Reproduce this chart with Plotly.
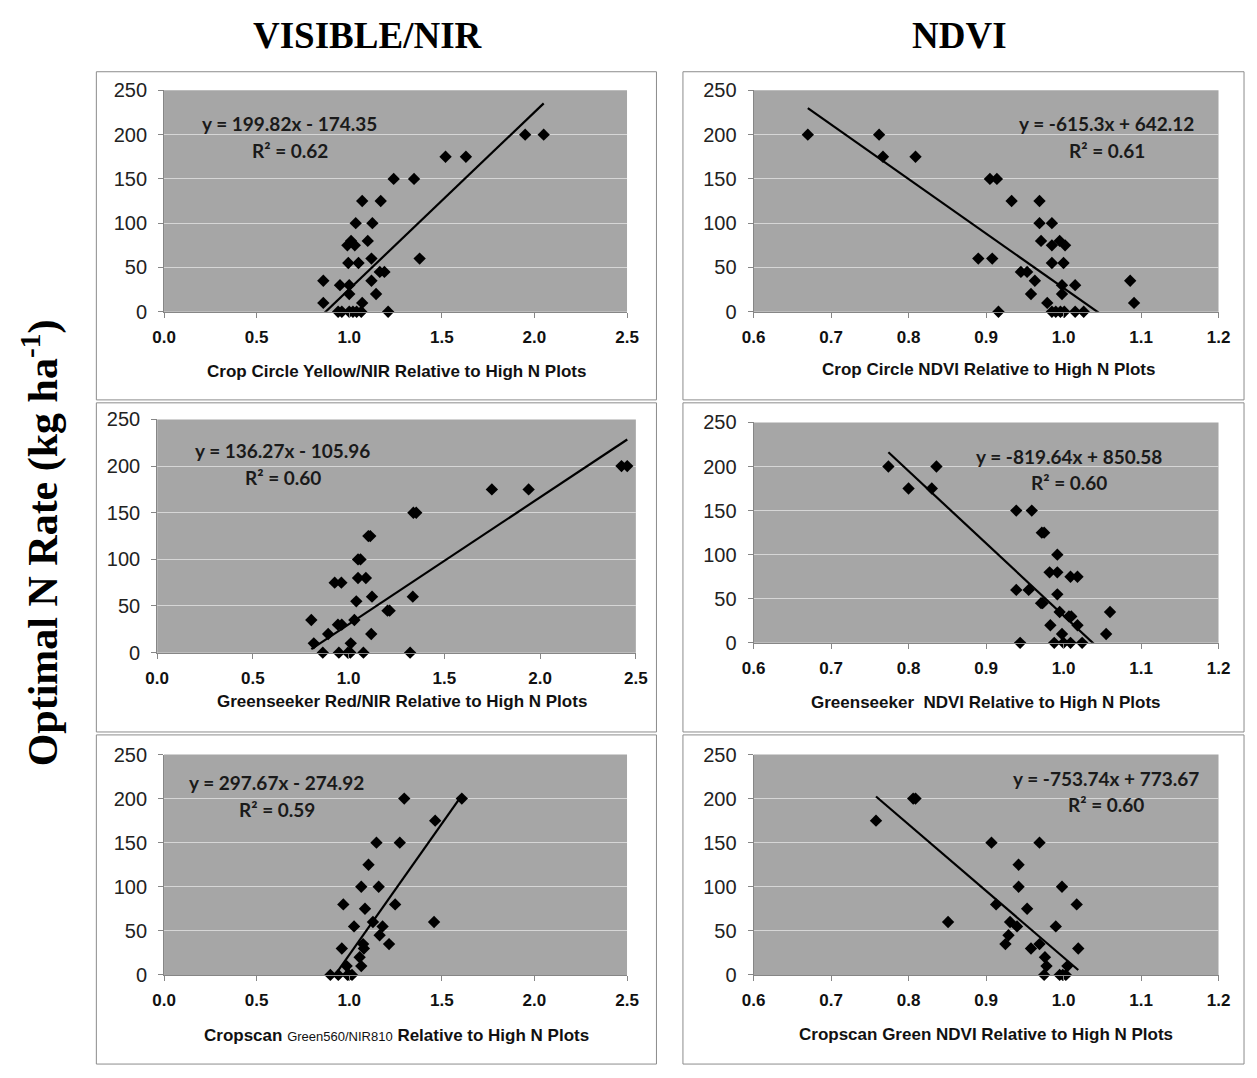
import plotly.graph_objects as go

W, H = 1257, 1078

# ---------------- data ----------------
# Panel 1: Crop Circle Yellow/NIR
cc_vis_x = [1.95, 2.05, 1.52, 1.63, 1.24, 1.35, 1.07, 1.17, 1.035, 1.125, 0.99, 1.01, 1.03, 1.10,
            1.12, 0.995, 1.05, 1.165, 1.19, 1.38, 0.86, 1.12, 0.95, 1.0, 1.0, 1.145, 0.86, 1.07,
            0.94, 0.96, 1.0, 1.02, 1.04, 1.065, 1.21]
cc_vis_y = [200, 200, 175, 175, 150, 150, 125, 125, 100, 100, 75, 80, 75, 80,
            60, 55, 55, 45, 45, 60, 35, 35, 30, 30, 20, 20, 10, 10,
            0, 0, 0, 0, 0, 0, 0]

# Panel 2: Crop Circle NDVI
cc_ndvi_x = [0.670, 0.762, 0.767, 0.809, 0.905, 0.914, 0.933, 0.969, 0.969, 0.985, 0.971, 0.995,
             1.002, 0.985, 0.985, 1.0, 0.890, 0.908, 0.945, 0.953, 0.963, 0.998, 1.015, 0.958,
             0.998, 0.979, 0.916, 0.985, 0.990, 0.996, 1.001, 1.015, 1.026, 1.086, 1.091]
cc_ndvi_y = [200, 200, 175, 175, 150, 150, 125, 125, 100, 100, 80, 80,
             75, 75, 55, 55, 60, 60, 45, 45, 35, 30, 30, 20,
             20, 10, 0, 0, 0, 0, 0, 0, 0, 35, 10]

# Panel 3: Greenseeker Red/NIR
gs_vis_x = [2.425, 2.455, 1.748, 1.94, 1.338, 1.353, 1.103, 1.113, 1.049, 1.062, 1.049, 1.09,
            0.927, 0.962, 1.122, 1.335, 1.04, 1.203, 1.214, 0.805, 1.03, 0.944, 0.964, 0.893,
            1.118, 0.818, 1.011, 0.865, 0.949, 0.996, 1.009, 1.077, 1.321]
gs_vis_y = [200, 200, 175, 175, 150, 150, 125, 125, 100, 100, 80, 80,
            75, 75, 60, 60, 55, 45, 45, 35, 35, 30, 30, 20,
            20, 10, 10, 0, 0, 0, 0, 0, 0]

# Panel 4: Greenseeker NDVI
gs_ndvi_x = [0.774, 0.836, 0.800, 0.830, 0.939, 0.959, 0.972, 0.975, 0.992, 0.982, 0.992, 1.009,
             1.018, 0.939, 0.955, 0.992, 0.971, 0.973, 0.995, 1.060, 1.007, 1.010, 0.983, 1.018,
             0.998, 1.055, 0.944, 0.988, 1.000, 1.009, 1.024]
gs_ndvi_y = [200, 200, 175, 175, 150, 150, 125, 125, 100, 80, 80, 75,
             75, 60, 60, 55, 45, 45, 35, 35, 30, 30, 20, 20,
             10, 10, 0, 0, 0, 0, 0]

# Panel 5: Cropscan Green560/NIR810
cs_vis_x = [1.608, 1.297, 1.464, 1.147, 1.273, 1.104, 1.065, 1.159, 0.968, 1.248, 1.085, 1.128,
            1.458, 1.026, 1.18, 1.164, 1.075, 1.215, 0.96, 1.079, 1.056, 0.986, 1.065,
            0.898, 0.941, 0.991, 1.0, 1.015]
cs_vis_y = [200, 200, 175, 150, 150, 125, 100, 100, 80, 80, 75, 60,
            60, 55, 55, 45, 35, 35, 30, 30, 20, 10, 10,
            0, 0, 0, 0, 0]

# Panel 6: Cropscan Green NDVI
cs_ndvi_x = [0.758, 0.806, 0.809, 0.851, 0.907, 0.969, 0.913, 0.942, 0.942, 0.998, 1.017, 0.953,
             0.931, 0.940, 0.990, 0.929, 0.925, 0.969, 0.958, 1.019, 0.976, 0.978, 1.005,
             0.975, 0.995, 0.999, 1.003]
cs_ndvi_y = [175, 200, 200, 60, 150, 150, 80, 125, 100, 100, 80, 75,
             60, 55, 55, 45, 35, 35, 30, 30, 20, 10, 10,
             0, 0, 0, 0]

series_x = [cc_vis_x, cc_ndvi_x, gs_vis_x, gs_ndvi_x, cs_vis_x, cs_ndvi_x]
series_y = [cc_vis_y, cc_ndvi_y, gs_vis_y, gs_ndvi_y, cs_vis_y, cs_ndvi_y]

slopes = [199.82, -615.3, 136.27, -819.64, 297.67, -753.74]
intercepts = [-174.35, 642.12, -105.96, 850.58, -274.92, 773.67]
eq_texts = ["y = 199.82x - 174.35", "y = -615.3x + 642.12", "y = 136.27x - 105.96",
            "y = -819.64x + 850.58", "y = 297.67x - 274.92", "y = -753.74x + 773.67"]
r2_texts = ["R² = 0.62", "R² = 0.61", "R² = 0.60", "R² = 0.60", "R² = 0.59", "R² = 0.60"]

x_titles = ["Crop Circle Yellow/NIR Relative to High N Plots",
            "Crop Circle NDVI Relative to High N Plots",
            "Greenseeker Red/NIR Relative to High N Plots",
            "Greenseeker  NDVI Relative to High N Plots",
            "Cropscan <span style='font-size:13px;font-weight:normal'>Green560/NIR810</span> Relative to High N Plots",
            "Cropscan Green NDVI Relative to High N Plots"]

x_ranges = [[0, 2.5], [0.6, 1.2], [0, 2.5], [0.6, 1.2], [0, 2.5], [0.6, 1.2]]
x_dticks = [0.5, 0.1, 0.5, 0.1, 0.5, 0.1]
y_range = [0, 250]
y_dtick = 50

col_titles = ["VISIBLE/NIR", "NDVI"]
y_title = "Optimal N Rate (kg ha<sup>-1</sup>)"

# ---------------- layout geometry (pixels) ----------------
plot_boxes = [  # left, right, top, bottom
    (155, 627, 81, 307),
    (756, 1230, 81, 307),
    (148, 636, 417, 655),
    (756, 1230, 420, 645),
    (155, 627, 759, 984),
    (756, 1230, 759, 984),
]
frames = [
    (86, 657, 62, 397), (684, 1256, 62, 397),
    (86, 657, 400, 736), (684, 1256, 400, 736),
    (86, 657, 739, 1075), (684, 1256, 739, 1075),
]
eq_pos = [(283, 115, 142), (1116, 115, 142), (276, 449, 476),
          (1078, 455, 481), (270, 788, 815), (1115, 783, 810)]
xtitle_pos = [(392, 368), (995, 366), (398, 705), (993, 706), (392, 1046), (993, 1045)]


def px(x):
    return x / W


def py(y):
    return 1 - y / H


fig = go.Figure()
annotations = []
shapes = []
axis_col = "#868686"
eq_font = dict(family="Lato, Open Sans, Liberation Sans", size=19, color="#1a1a1a", weight="bold")

for i in range(6):
    n = "" if i == 0 else str(i + 1)
    xs, ys = series_x[i], series_y[i]
    fig.add_trace(go.Scatter(
        x=xs, y=ys, mode="markers", xaxis="x" + n, yaxis="y" + n,
        marker=dict(symbol="diamond", size=9.5, color="black"),
        showlegend=False, cliponaxis=False))
    x0, x1 = min(xs), max(xs)
    fig.add_trace(go.Scatter(
        x=[x0, x1], y=[slopes[i] * x0 + intercepts[i], slopes[i] * x1 + intercepts[i]],
        mode="lines", xaxis="x" + n, yaxis="y" + n,
        line=dict(color="black", width=2.2), showlegend=False))

    l, r, t, b = plot_boxes[i]
    fig.layout["xaxis" + n] = dict(
        domain=[px(l), px(r)], range=x_ranges[i], dtick=x_dticks[i], tick0=0,
        tickformat=".1f", anchor="y" + n, showgrid=False, zeroline=False,
        showline=True, linecolor=axis_col, linewidth=1,
        ticks="outside", ticklen=5, tickcolor=axis_col,
        ticklabelstandoff=5,
        tickfont=dict(family="Liberation Sans, Arial", size=17, color="#111", weight="bold"))
    fig.layout["yaxis" + n] = dict(
        domain=[py(b), py(t)], range=y_range, dtick=y_dtick, anchor="x" + n,
        showgrid=True, gridcolor="#d6d6d6", gridwidth=1, zeroline=False,
        showline=True, linecolor=axis_col, linewidth=1,
        ticks="outside", ticklen=5, tickcolor=axis_col,
        ticklabelstandoff=7,
        tickfont=dict(family="Liberation Sans, Arial", size=20, color="#222"))

    ex, ey, ry = eq_pos[i]
    annotations.append(dict(text=eq_texts[i], x=px(ex), y=py(ey), xref="paper", yref="paper",
                            showarrow=False, xanchor="center", yanchor="middle", font=eq_font))
    annotations.append(dict(text=r2_texts[i], x=px(ex), y=py(ry), xref="paper", yref="paper",
                            showarrow=False, xanchor="center", yanchor="middle", font=eq_font))
    tx, ty = xtitle_pos[i]
    annotations.append(dict(text=x_titles[i], x=px(tx), y=py(ty), xref="paper", yref="paper",
                            showarrow=False, xanchor="center", yanchor="middle",
                            font=dict(family="Liberation Sans, Arial", size=17, color="#111",
                                      weight="bold")))
    fl, fr, ft, fb = frames[i]
    shapes.append(dict(type="rect", xref="paper", yref="paper",
                       x0=px(fl), x1=px(fr), y0=py(fb), y1=py(ft),
                       line=dict(color="#8c8c8c", width=1), fillcolor="rgba(0,0,0,0)",
                       layer="below"))
    shapes.append(dict(type="rect", xref="paper", yref="paper",
                       x0=px(l), x1=px(r), y0=py(b), y1=py(t),
                       line=dict(width=0), fillcolor="#a6a6a6", layer="below"))

for txt, cx in zip(col_titles, [363, 966]):
    annotations.append(dict(text=txt, x=px(cx), y=py(25), xref="paper", yref="paper",
                            showarrow=False, xanchor="center", yanchor="middle",
                            font=dict(family="Liberation Serif, Times New Roman", size=37,
                                      color="black", weight="bold")))

annotations.append(dict(text=y_title, x=px(29), y=py(543), xref="paper", yref="paper",
                        showarrow=False, xanchor="center", yanchor="middle", textangle=-90,
                        font=dict(family="Liberation Serif, Times New Roman", size=42,
                                  color="black", weight="bold")))

fig.update_layout(
    width=W, height=H, margin=dict(l=0, r=0, t=0, b=0),
    paper_bgcolor="white", plot_bgcolor="rgba(0,0,0,0)",
    annotations=annotations, shapes=shapes, showlegend=False)

fig.write_html("out.html")
